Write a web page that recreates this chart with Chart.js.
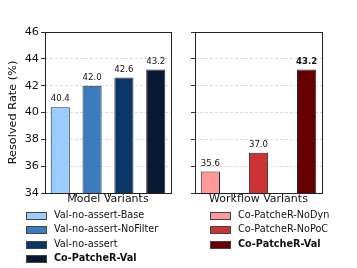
<!DOCTYPE html>
<html>
<head>
<meta charset="utf-8">
<script src="https://cdn.jsdelivr.net/npm/chart.js@4.4.1/dist/chart.umd.min.js"></script>
<style>
  html, body { margin: 0; padding: 0; background: #fff; }
  body { width: 357px; height: 268px; position: relative; overflow: hidden; font-family: "DejaVu Sans", sans-serif; }
  .panel { position: absolute; top: 0; height: 210px; }
  .legend { position: absolute; font-size: 9.7px; color: #111; }
  .legend .row { position: absolute; left: 0; height: 14px; white-space: nowrap; }
  .legend .sw { position: absolute; left: 0; top: 4px; width: 19px; height: 6px; border: 1px solid #444; }
  .legend .lbl { position: absolute; left: 28px; top: 0; line-height: 14px; }
  .legend .bold { font-weight: bold; }
</style>
</head>
<body>
<div class="panel" style="left:0;width:180px"><canvas id="left"></canvas></div>
<div class="panel" style="left:180px;width:150px"><canvas id="right"></canvas></div>
<div class="legend" id="legLeft" style="left:26px;top:208px"></div>
<div class="legend" id="legRight" style="left:210px;top:208px"></div>
<script>
// ===============================
// DATI
// ===============================
const modelLabels = ["Val-no-assert-Base", "Val-no-assert-NoFilter", "Val-no-assert", "Co-PatcheR-Val"];
const modelValues = [40.4, 42.0, 42.6, 43.2];
const modelColors = ["#99ccff", "#3a7cbd", "#0b3768", "#081a33"];

const flowLabels = ["Co-PatcheR-NoDyn", "Co-PatcheR-NoPoC", "Co-PatcheR-Val"];
const flowValues = [35.6, 37.0, 43.2];
const flowColors = ["#ff9999", "#cc3333", "#660000"];

const yTicks = [34, 36, 38, 40, 42, 44, 46];

const FONT = "'DejaVu Sans', sans-serif";

// ===============================
// PLUGIN: cornice + etichette valori
// ===============================
const framePlugin = {
    id: "frame",
    afterDraw(chart) {
        const { ctx, chartArea: a } = chart;
        ctx.save();
        ctx.strokeStyle = "#222";
        ctx.lineWidth = 1;
        ctx.strokeRect(Math.round(a.left) + 0.5, Math.round(a.top) + 0.5,
            Math.round(a.right - a.left), Math.round(a.bottom - a.top));
        ctx.restore();
    }
};

const valuePlugin = {
    id: "values",
    afterDatasetsDraw(chart, args, opts) {
        const { ctx } = chart;
        const meta = chart.getDatasetMeta(0);
        const data = chart.data.datasets[0].data;
        ctx.save();
        ctx.fillStyle = "#111";
        ctx.textAlign = "center";
        ctx.textBaseline = "alphabetic";
        meta.data.forEach((bar, i) => {
            const bold = opts.boldLast && i === data.length - 1;
            ctx.font = (bold ? "bold " : "") + "8.6px " + FONT;
            ctx.fillText(data[i].y.toFixed(1), bar.x, bar.y - 6);
        });
        ctx.restore();
    }
};

function makeChart(id, values, colors, opts) {
    const points = values.map((v, i) => ({ x: i, y: v }));
    return new Chart(document.getElementById(id), {
        type: "bar",
        data: {
            datasets: [{
                data: points,
                backgroundColor: colors,
                borderColor: "#2a2a2a",
                borderWidth: 1,
                barPercentage: opts.barPct,
                categoryPercentage: 1
            }]
        },
        options: {
            responsive: false,
            animation: false,
            devicePixelRatio: 1,
            layout: { padding: { top: 32, right: opts.padRight, left: 0, bottom: 0 } },
            plugins: {
                legend: { display: false },
                tooltip: { enabled: false },
                values: { boldLast: opts.boldLast }
            },
            scales: {
                x: {
                    type: "linear",
                    offset: false,
                    min: opts.xMin,
                    max: opts.xMax,
                    afterBuildTicks: s => { s.ticks = values.map((v, i) => ({ value: i })); },
                    afterFit: s => { s.height = 17; },
                    ticks: { callback: () => "", font: { size: 1 } },
                    grid: { drawOnChartArea: false, drawTicks: true, tickLength: 4, tickColor: "#333", tickWidth: 1 },
                    border: { display: false },
                    title: {
                        display: true,
                        text: opts.xTitle,
                        color: "#111",
                        font: { family: FONT, size: 11 },
                        padding: { top: 0, bottom: 4 }
                    }
                },
                y: {
                    min: 34,
                    max: 46,
                    afterBuildTicks: s => { s.ticks = yTicks.map(v => ({ value: v })); },
                    afterFit: s => { s.width = opts.yWidth; },
                    ticks: {
                        display: opts.showY,
                        color: "#111",
                        padding: 2,
                        font: { family: FONT, size: 11.3 }
                    },
                    grid: {
                        color: "rgba(0,0,0,0.18)",
                        lineWidth: 0.8,
                        borderDash: [3, 2],
                        tickLength: 4,
                        tickColor: "#333",
                        tickWidth: 1,
                        tickBorderDash: []
                    },
                    border: { display: false, dash: [3, 2] },
                    title: {
                        display: opts.showY,
                        text: "Resolved Rate (%)",
                        color: "#111",
                        font: { family: FONT, size: 11.3 },
                        padding: { top: 6, bottom: 0 }
                    }
                }
            }
        },
        plugins: [framePlugin, valuePlugin]
    });
}

function setSize(id, w, h) {
    const c = document.getElementById(id);
    c.width = w; c.height = h;
    c.style.width = w + "px"; c.style.height = h + "px";
}
setSize("left", 180, 210);
setSize("right", 150, 210);

makeChart("left", modelValues, modelColors, {
    barPct: 0.6, padRight: 9, xMin: -0.48, xMax: 3.48,
    xTitle: "Model Variants", yWidth: 45, showY: true, boldLast: false
});
makeChart("right", flowValues, flowColors, {
    barPct: 0.4, padRight: 8, xMin: -0.32, xMax: 2.32,
    xTitle: "Workflow Variants", yWidth: 15, showY: false, boldLast: true
});

// ===============================
// LEGENDE (HTML)
// ===============================
function buildLegend(id, labels, colors) {
    const el = document.getElementById(id);
    labels.forEach((lab, i) => {
        const row = document.createElement("div");
        row.className = "row";
        row.style.top = (i * 14.3) + "px";
        const sw = document.createElement("span");
        sw.className = "sw";
        sw.style.background = colors[i];
        const t = document.createElement("span");
        t.className = "lbl" + (i === labels.length - 1 ? " bold" : "");
        t.textContent = lab;
        row.appendChild(sw);
        row.appendChild(t);
        el.appendChild(row);
    });
}
buildLegend("legLeft", modelLabels, modelColors);
buildLegend("legRight", flowLabels, flowColors);
</script>
</body>
</html>
